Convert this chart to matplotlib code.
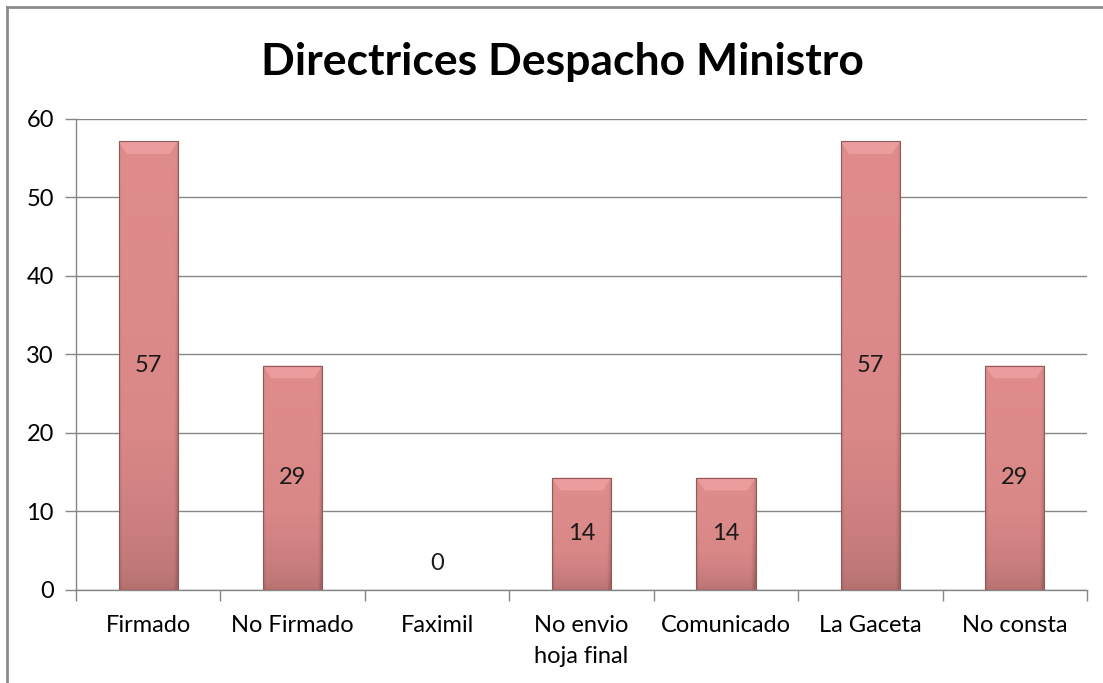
import numpy as np
import matplotlib
matplotlib.use('Agg')
import matplotlib.pyplot as plt
from matplotlib.colors import LinearSegmentedColormap

########################################################################################################################
# data
########################################################################################################################
categories = ["Firmado", "No Firmado", "Faximil", "No envio\nhoja final", "Comunicado", "La Gaceta", "No consta"]
values = [57.14, 28.57, 0.0, 14.29, 14.29, 57.14, 28.57]
y_ticks = [0, 10, 20, 30, 40, 50, 60]
title = "Directrices Despacho Ministro"

plt.rcParams['font.family'] = ['Lato', 'DejaVu Sans']

fig = plt.figure(figsize=(11.03, 6.83), dpi=100)
ax = fig.add_axes([0.0689, 0.1362, 0.9166, 0.6896])

# outer chart border (only top and left visible in the screenshot)
fig.add_artist(plt.Line2D([0.0065, 0.0065], [0.0, 0.99], transform=fig.transFigure, color='#8c8c8c', lw=2.0))
fig.add_artist(plt.Line2D([0.0065, 1.0], [0.99, 0.99], transform=fig.transFigure, color='#8c8c8c', lw=2.0))

x = np.arange(len(categories))
width = 0.41
bars = ax.bar(x, values, width=width, color='none', edgecolor='none', zorder=3)

# vertical + side shading for a bevelled look
cmap = LinearSegmentedColormap.from_list('bar', ['#a46262', '#bd7676', '#d98787', '#e08c8c'])
ny, nx = 200, 60
gy = np.linspace(0, 1, ny)[:, None]
gx = np.linspace(-1, 1, nx)[None, :]
shade = 0.2 + 0.8 * np.sqrt(gy) - 0.5 * np.clip(gx - 0.85, 0, None) / 0.15 - 0.25 * np.clip(-gx - 0.9, 0, None) / 0.1
shade = np.clip(shade, 0, 1)

for b, v in zip(bars, values):
    if v <= 0:
        continue
    x0, w = b.get_x(), b.get_width()
    im = ax.imshow(shade, cmap=cmap, vmin=0, vmax=1, origin='lower', aspect='auto',
                   extent=[x0, x0 + w, 0, v], zorder=3, interpolation='bilinear')
    im.set_clip_path(b)
    # top bevel highlight
    ax.fill([x0, x0 + w, x0 + w * 0.86, x0 + w * 0.14], [v, v, v - 1.6, v - 1.6],
            color='#eb9c9c', zorder=4, lw=0)
    ax.bar(x0 + w / 2, v, width=w, color='none', edgecolor='#8f5a5a', lw=0.8, zorder=5)

# data labels
for xi, v in zip(x, values):
    ypos = v / 2 if v > 0 else 3.4
    ax.text(xi, ypos, "{0:.0f}".format(v), ha='center', va='center', fontsize=17, color='#1a1a1a', zorder=6)

ax.set_xlim(-0.5, len(categories) - 0.5)
ax.set_ylim(0, 60)
ax.set_yticks(y_ticks)
ax.set_yticklabels([str(t) for t in y_ticks], fontsize=17)
ax.set_xticks(x)
ax.set_xticklabels(categories, fontsize=17, linespacing=1.6)
ax.tick_params(axis='x', length=0, pad=18)
ax.set_xticks(np.arange(len(categories) + 1) - 0.5, minor=True)
ax.tick_params(axis='x', which='minor', length=8, color='#868686', width=1)
ax.tick_params(axis='y', length=8, color='#868686', width=1, pad=8)

ax.grid(axis='y', color='#868686', lw=1, zorder=0)
ax.set_axisbelow(True)
for s in ['top', 'right']:
    ax.spines[s].set_visible(False)
for s in ['left', 'bottom']:
    ax.spines[s].set_color('#868686')
    ax.spines[s].set_linewidth(1)

fig.text(0.51, 0.909, title, ha='center', va='center', fontsize=32, fontweight='bold', color='black')

fig.savefig('out.png', dpi=100)
